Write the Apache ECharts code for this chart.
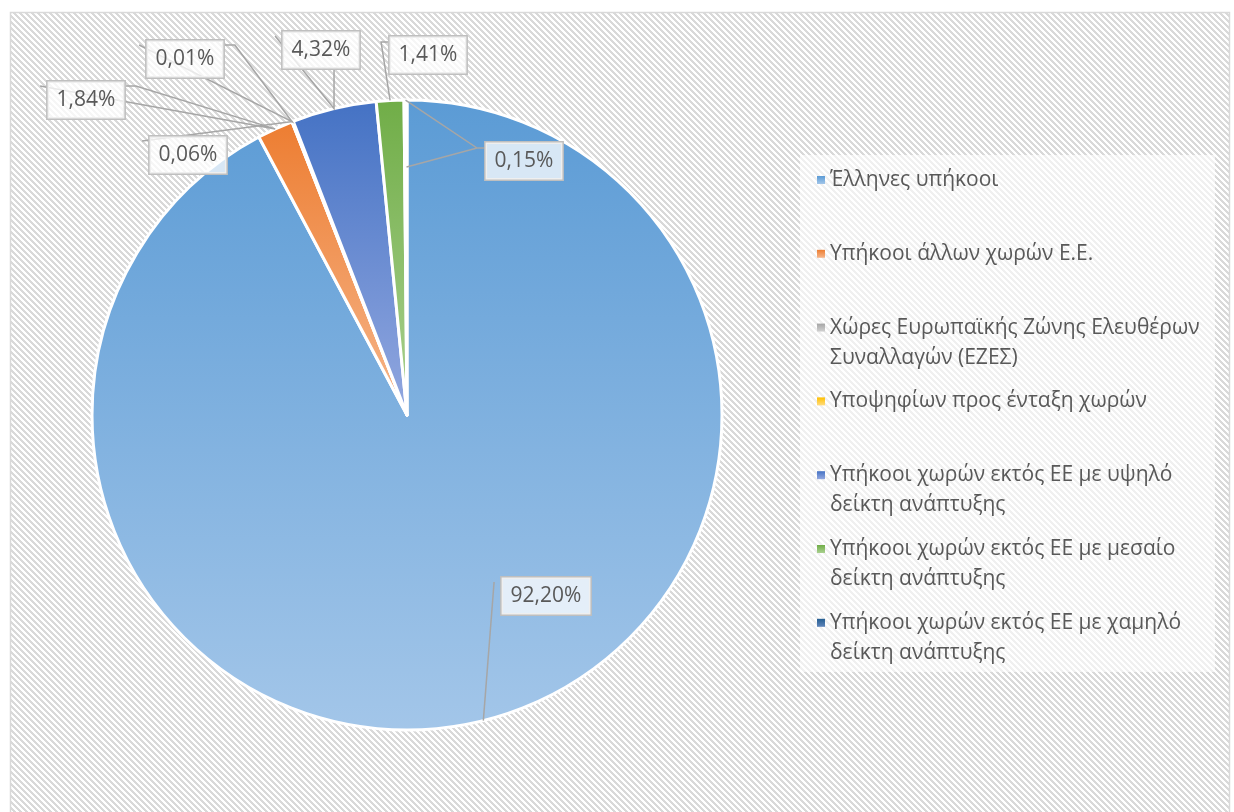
<!DOCTYPE html>
<html>
<head>
<meta charset="utf-8">
<script src="https://cdn.jsdelivr.net/npm/echarts@6/dist/echarts.min.js"></script>
<style>
  html, body { margin: 0; padding: 0; background: #fff; }
  #chart { width: 1234px; height: 812px; }
</style>
</head>
<body>
<div id="chart"></div>
<script>
// Data (percent of total)
const categories = [
  'Έλληνες υπήκοοι',
  'Υπήκοοι άλλων χωρών Ε.Ε.',
  'Χώρες Ευρωπαϊκής Ζώνης Ελευθέρων Συναλλαγών (ΕΖΕΣ)',
  'Υποψηφίων προς ένταξη χωρών',
  'Υπήκοοι χωρών εκτός ΕΕ με υψηλό δείκτη ανάπτυξης',
  'Υπήκοοι χωρών εκτός ΕΕ με μεσαίο δείκτη ανάπτυξης',
  'Υπήκοοι χωρών εκτός ΕΕ με χαμηλό δείκτη ανάπτυξης'
];
const shares = [92.20, 1.84, 0.01, 0.06, 4.32, 1.41, 0.15];

// Styling (Office-like gradient fills)
const topColors = ['#5b9bd5', '#ed7d31', '#a5a5a5', '#ffc000', '#4472c4', '#70ad47', '#255e91'];
const bottomColors = ['#a3c6e9', '#f6b68b', '#d2d2d2', '#ffdc80', '#93a8e0', '#aad190', '#6086bb'];

// where each data label box sits, and how its leader line is drawn
const labelSpots = [[546, 596], [86, 100], [185, 59], [188, 155], [321, 50], [428, 55], [524, 161]];
const leaderSide = ['corner', 'right', 'right', 'corner', 'bottom', 'left', 'left'];

// hatched chart background
const tile = document.createElement('canvas');
tile.width = 6;
tile.height = 6;
const tctx = tile.getContext('2d');
tctx.fillStyle = '#ffffff';
tctx.fillRect(0, 0, 6, 6);
tctx.fillStyle = '#d9d9d9';
for (let y = 0; y < 6; y++) {
  for (let x = 0; x < 6; x++) {
    if ((((x - y) % 6) + 6) % 6 < 3) tctx.fillRect(x, y, 1, 1);
  }
}

function fmtPct(v) {
  return v.toFixed(2).replace('.', ',') + '%';
}

// simple word wrap for the legend names
function wrap(name, maxChars) {
  const words = name.split(' ');
  const lines = [];
  let cur = '';
  words.forEach((w) => {
    if (cur && (cur + ' ' + w).length > maxChars) {
      lines.push(cur);
      cur = w;
    } else {
      cur = cur ? cur + ' ' + w : w;
    }
  });
  if (cur) lines.push(cur);
  return lines;
}

const pieData = categories.map((name, i) => ({
  name: name,
  value: shares[i],
  itemStyle: {
    color: new echarts.graphic.LinearGradient(0, 0, 0, 1, [
      { offset: 0, color: topColors[i] },
      { offset: 1, color: bottomColors[i] }
    ])
  }
}));

// same values again, for a see-through copy of the pie that carries the labels on top
const labelData = categories.map((name, i) => ({ name: name, value: shares[i] }));

// one legend per entry so the entries keep an even pitch like the original;
// two-line names get an empty first line so the marker sits beside the first text line
const legendFirstLine = 180;
const legendPitch = 73.8;
const legends = categories.map((name, i) => {
  const lines = wrap(name, 33);
  return {
    data: [name],
    left: 817,
    top: legendFirstLine + i * legendPitch - (lines.length > 1 ? 45 : 15),
    padding: 0,
    icon: 'rect',
    itemWidth: 8,
    itemHeight: 8,
    itemGap: 0,
    itemStyle: { borderWidth: 0 },
    selectedMode: false,
    formatter: () => (lines.length > 1 ? ' \n' : '') + lines.join('\n'),
    textStyle: {
      fontFamily: 'Open Sans',
      fontSize: 21,
      color: '#595959',
      lineHeight: 30
    }
  };
});

let myChart = echarts.init(document.getElementById('chart'));

const pieBase = {
  type: 'pie',
  center: [407, 415],
  radius: 315,
  startAngle: 90,
  clockwise: true,
  avoidLabelOverlap: false,
  emphasis: { disabled: true }
};

const option = {
  animation: false,
  textStyle: { fontFamily: 'Open Sans' },
  graphic: [
    {
      type: 'rect',
      z: 0,
      shape: { x: 10.5, y: 12.5, width: 1219, height: 812 },
      style: { fill: { image: tile, repeat: 'repeat' }, stroke: '#d9d9d9', lineWidth: 1.5 }
    },
    {
      type: 'rect',
      z: 1,
      shape: { x: 800, y: 155, width: 415, height: 517 },
      style: { fill: 'rgba(255,255,255,0.6)' }
    }
  ],
  legend: legends,
  series: [
    Object.assign({}, pieBase, {
      z: 2,
      itemStyle: { borderColor: '#ffffff', borderWidth: 3 },
      label: { show: false },
      labelLine: { show: false },
      data: pieData
    }),
    Object.assign({}, pieBase, {
      z: 3,
      silent: true,
      itemStyle: { color: 'rgba(0,0,0,0)', borderWidth: 0 },
      label: {
        show: true,
        position: 'outside',
        formatter: (p) => fmtPct(p.value),
        fontFamily: 'Open Sans',
        fontSize: 21,
        color: '#595959',
        lineHeight: 23,
        padding: [7, 9, 7, 9],
        backgroundColor: 'rgba(255,255,255,0.75)',
        borderColor: '#bfbfbf',
        borderWidth: 1.5
      },
      labelLine: {
        show: true,
        length: 10,
        length2: 10,
        lineStyle: { color: '#a6a6a6', width: 1.5 }
      },
      labelLayout: function (params) {
        const i = params.dataIndex;
        const spot = labelSpots[i];
        const w = params.labelRect.width;
        const h = params.labelRect.height;
        const left = spot[0] - w / 2;
        const right = spot[0] + w / 2;
        const top = spot[1] - h / 2;
        const bottom = spot[1] + h / 2;
        const p0 = params.labelLinePoints ? params.labelLinePoints[0] : [spot[0], bottom];
        const corner = [left - 6, top + 6];
        let pts;
        if (leaderSide[i] === 'corner') {
          pts = [p0, corner];
        } else if (leaderSide[i] === 'right') {
          pts = [corner, p0, [right + 10, top + 6], [right, top + 6]];
        } else if (leaderSide[i] === 'bottom') {
          pts = [corner, p0, [p0[0], bottom]];
        } else {
          const elbow = [left - 7, top + 7];
          pts = [p0, elbow, [left, top + 7]];
          // the last label also has a second short stroke back to the slice edge
          if (i === shares.length - 1) pts.push(elbow, [p0[0] + 1, p0[1] + 67]);
        }
        return {
          x: spot[0],
          y: spot[1],
          align: 'center',
          verticalAlign: 'middle',
          labelLinePoints: pts
        };
      },
      data: labelData
    })
  ]
};

myChart.setOption(option);
</script>
</body>
</html>
